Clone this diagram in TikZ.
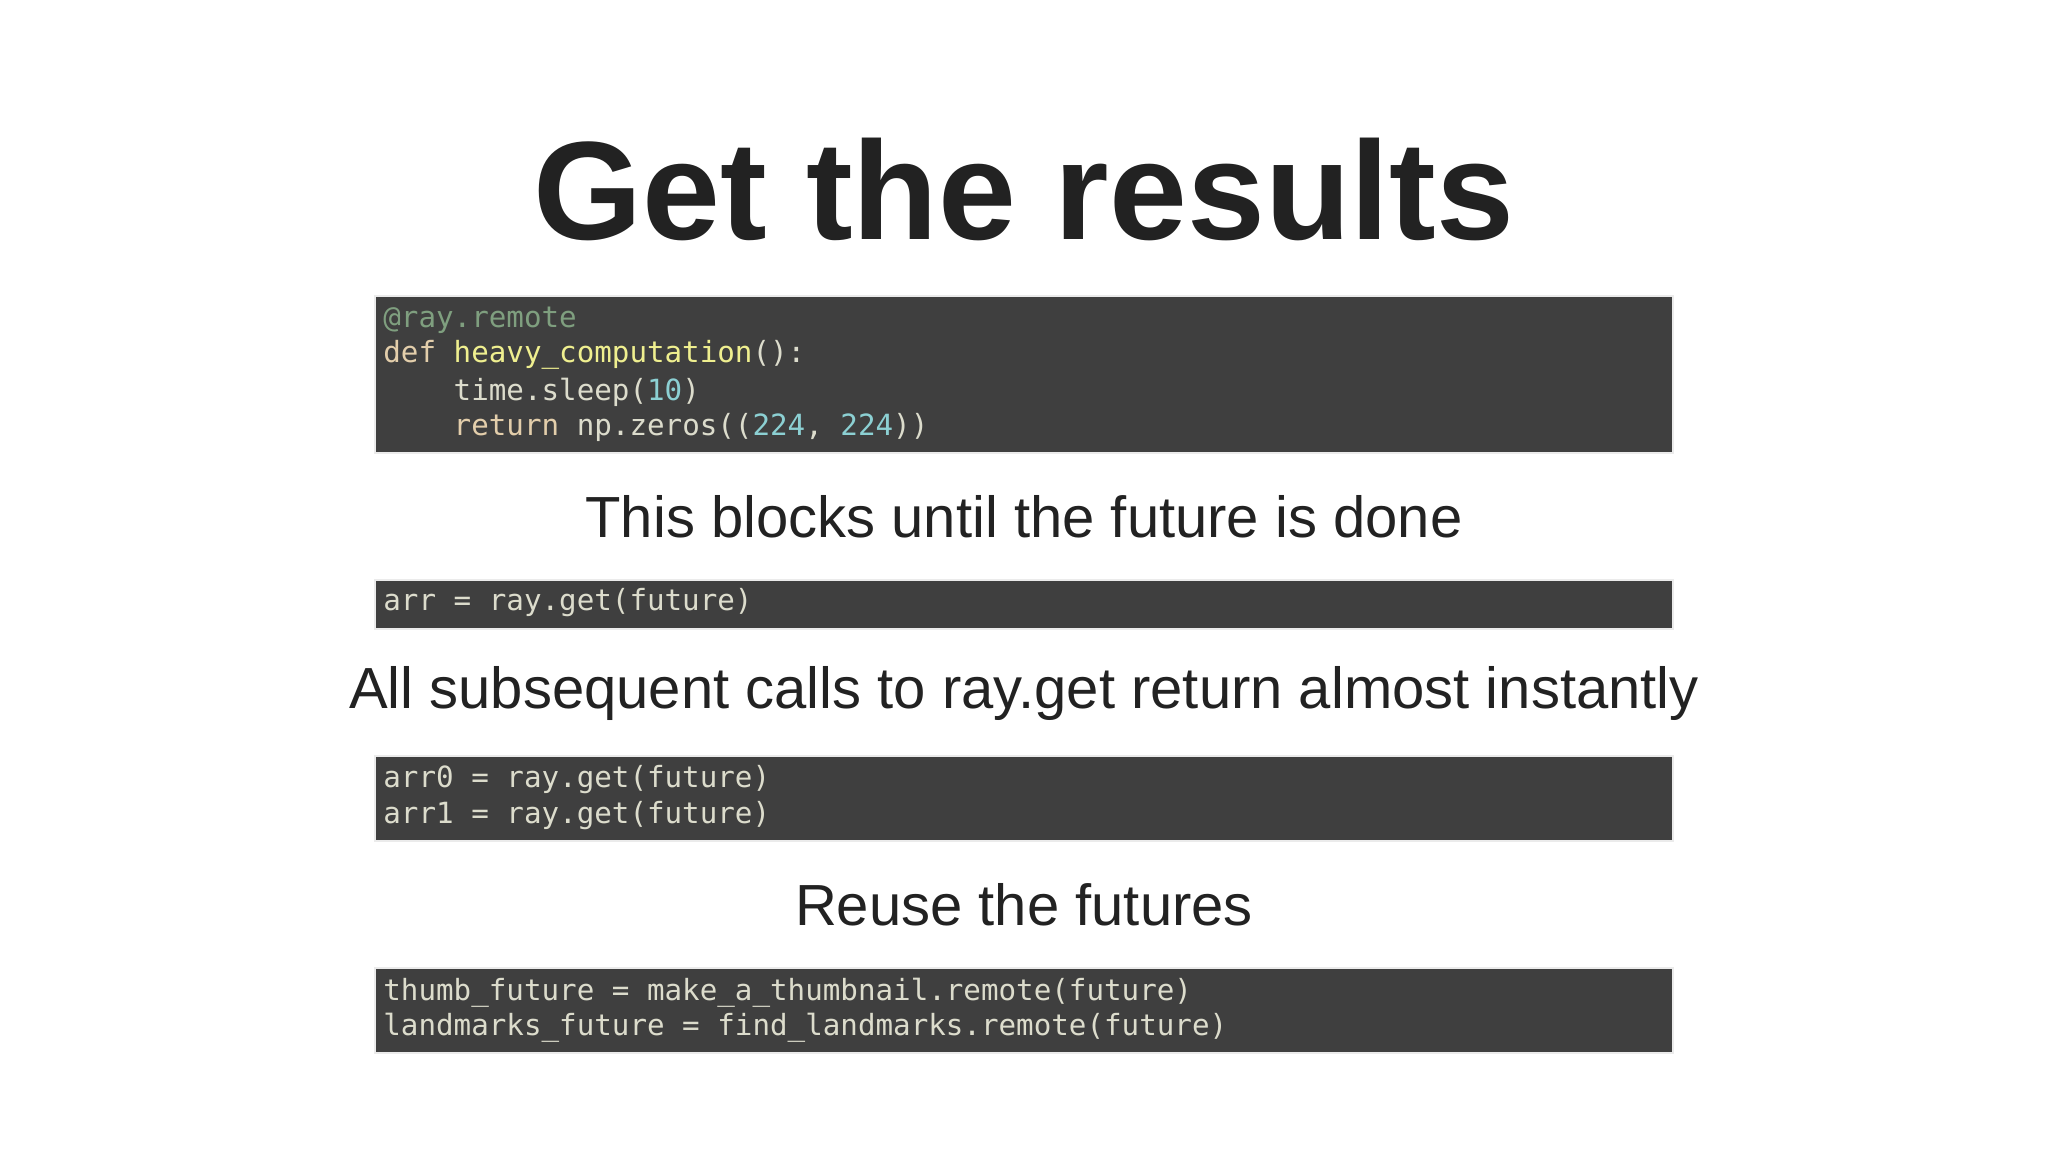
\documentclass[tikz,border=0pt]{standalone}
\usepackage{fontspec}
\setmainfont{Liberation Sans}
\setmonofont{DejaVu Sans Mono}
\definecolor{codebg}{HTML}{3F3F3F}
\definecolor{codefg}{HTML}{DCDCCC}
\definecolor{deco}{HTML}{7F9F7F}
\definecolor{kw}{HTML}{E3CEAB}
\definecolor{fn}{HTML}{EFEF8F}
\definecolor{num}{HTML}{8CD0D3}
\definecolor{ink}{HTML}{222222}
\tikzset{
    codeblock/.style={fill=codebg, draw=black!8, line width=1pt},
    codeline/.style={anchor=west, inner sep=0pt, text=codefg, font=\ttfamily\fontsize{14.6}{17}\selectfont},
    caption/.style={text=ink, font=\fontsize{29}{34}\selectfont}
}
\begin{document}
\begin{tikzpicture}[x=0.5pt, y=-0.5pt]
\useasboundingbox (0,0) rectangle (2048,1152);
\node [text=ink, font=\bfseries\fontsize{70}{80}\selectfont] (title) at (1024,189) {Get the results};

% first block
\draw [codeblock] (375,296) rectangle (1673,453);
\node [codeline] (l1) at (383,320) {\textcolor{deco}{@ray.remote}};
\node [codeline] (l2) at (383,355) {\textcolor{kw}{def} \textcolor{fn}{heavy\_computation}():};
\node [codeline] (l3) at (383,392) {\ \ \ \ time.sleep(\textcolor{num}{10})};
\node [codeline] (l4) at (383,427) {\ \ \ \ \textcolor{kw}{return} np.zeros((\textcolor{num}{224}, \textcolor{num}{224}))};

\node [caption] (c1) at (1024,517) {This blocks until the future is done};

\draw [codeblock] (375,580) rectangle (1673,629);
\node [codeline] (l5) at (383,603) {arr = ray.get(future)};

\node [caption] (c2) at (1024,693) {All subsequent calls to ray.get return almost instantly};

\draw [codeblock] (375,756) rectangle (1673,841);
\node [codeline] (l6) at (383,780) {arr0 = ray.get(future)};
\node [codeline] (l7) at (383,816) {arr1 = ray.get(future)};

\node [caption] (c3) at (1024,905) {Reuse the futures};

\draw [codeblock] (375,968) rectangle (1673,1053);
\node [codeline] (l8) at (383,993) {thumb\_future = make\_a\_thumbnail.remote(future)};
\node [codeline] (l9) at (383,1028) {landmarks\_future = find\_landmarks.remote(future)};
\end{tikzpicture}
\end{document}
